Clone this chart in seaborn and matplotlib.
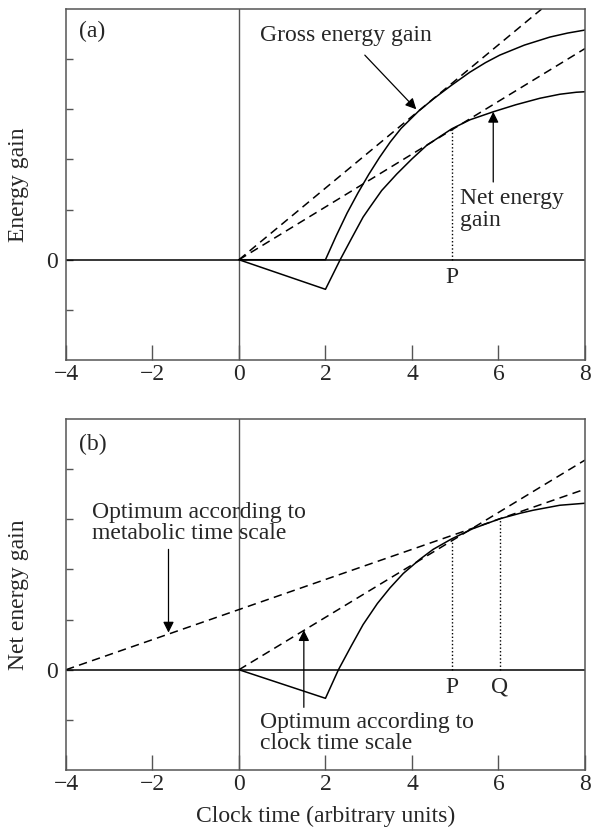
import numpy as np
import pandas as pd
import matplotlib
matplotlib.use("Agg")
import matplotlib.pyplot as plt
import seaborn as sns

############################### DATA ###############################
x_ticks = [-4, -2, 0, 2, 4, 6, 8]
y_ticks = [-1, 0, 1, 2, 3, 4]

# panel (a)
gross_x = [0, 2.0, 2.25, 2.5, 2.75, 3.0, 3.25, 3.5, 3.75, 4.15, 4.5, 4.9, 5.34, 5.7, 6.03, 6.6, 7.19, 7.6, 8.0]
gross_y = [0, 0, 0.48, 0.93, 1.33, 1.70, 2.04, 2.35, 2.62, 2.96, 3.21, 3.47, 3.74, 3.93, 4.08, 4.28, 4.44, 4.52, 4.58]
net_a_x = [0, 2.0, 2.34, 2.6, 2.87, 3.03, 3.3, 3.65, 4.0, 4.34, 4.92, 5.34, 5.88, 6.4, 6.96, 7.42, 7.8, 8.0]
net_a_y = [0, -0.59, 0, 0.42, 0.85, 1.05, 1.38, 1.71, 2.01, 2.28, 2.61, 2.79, 2.95, 3.09, 3.22, 3.30, 3.34, 3.35]
gross_tan_x = [0, 7.0]
gross_tan_y = [0, 5.0]
net_tan_a_x = [0, 8.0]
net_tan_a_y = [0, 4.21]
p_a = (4.92, 2.61)

# panel (b)
net_b_x = [0, 2.0, 2.30, 2.6, 2.87, 3.2, 3.49, 3.8, 4.18, 4.49, 4.92, 5.4, 6.03, 6.5, 6.8, 7.42, 8.0]
net_b_y = [0, -0.57, 0, 0.48, 0.90, 1.32, 1.63, 1.92, 2.20, 2.40, 2.61, 2.81, 3.01, 3.12, 3.18, 3.28, 3.32]
clock_x = [0, 8.0]
clock_y = [0, 4.18]
metab_x = [-4, 8.0]
metab_y = [0, 3.60]
p_b = (4.92, 2.61)
q_b = (6.03, 3.01)

############################### STYLE ###############################
sns.set_theme(style="ticks")
plt.rcParams['font.family'] = ['Liberation Serif', 'DejaVu Serif']
plt.rcParams['axes.unicode_minus'] = True
FS = 17
SPINE = '#555555'
DASH = (0, (5.5, 3.5))
DOT = (0, (1, 1.6))

fig = plt.figure(figsize=(5.91, 8.33), dpi=100)
ax_a = fig.add_axes([0.1117, 0.5678, 0.878, 0.4214])
ax_b = fig.add_axes([0.1117, 0.0756, 0.878, 0.4214])


def frame(ax, ylabel):
    ax.set_xlim(-4, 8)
    ax.set_ylim(-2, 5)
    ax.set_xticks(x_ticks)
    ax.set_xticklabels([str(t).replace('-', '\u2212') for t in x_ticks], fontsize=FS)
    ax.set_yticks(y_ticks)
    ax.set_yticklabels(['0' if t == 0 else '' for t in y_ticks], fontsize=FS)
    ax.tick_params(axis='x', direction='in', length=11, width=1, color=SPINE, pad=3)
    ax.tick_params(axis='y', direction='in', length=5, width=1, color=SPINE, pad=6)
    for s in ax.spines.values():
        s.set_color(SPINE)
        s.set_linewidth(1.1)
    ax.axhline(0, color='black', lw=1.1, zorder=1)
    ax.axvline(0, color=SPINE, lw=1.0, zorder=1)
    ax.set_ylabel(ylabel, fontsize=FS, va='center')
    ax.yaxis.set_label_coords(-0.092, 0.5)


def curve(ax, xs, ys, ls='-'):
    sns.lineplot(x=xs, y=ys, ax=ax, color='black', lw=1.1, linestyle=ls,
                 sort=False, estimator=None, legend=False)


def arrow(ax, xy_from, xy_to):
    ax.annotate('', xy=xy_to, xytext=xy_from,
                arrowprops=dict(arrowstyle='-|>', color='black', lw=0.9,
                                mutation_scale=16, shrinkA=0, shrinkB=0))

################################# PANEL (a) #################################
frame(ax_a, 'Energy gain')
curve(ax_a, gross_x, gross_y)
curve(ax_a, net_a_x, net_a_y)
curve(ax_a, gross_tan_x, gross_tan_y, DASH)
curve(ax_a, net_tan_a_x, net_tan_a_y, DASH)
ax_a.plot([p_a[0], p_a[0]], [0, p_a[1]], color='black', lw=1.0, linestyle=DOT)
ax_a.text(p_a[0], -0.14, 'P', ha='center', va='top', fontsize=FS)
ax_a.text(-3.7, 4.55, '(a)', ha='left', va='center', fontsize=FS)
ax_a.text(0.49, 4.48, 'Gross energy gain', ha='left', va='center', fontsize=FS)
arrow(ax_a, (2.91, 4.08), (4.1, 3.0))
ax_a.text(5.11, 1.0, 'Net energy\ngain', ha='left', va='center', fontsize=FS, linespacing=1.02)
arrow(ax_a, (5.88, 1.55), (5.88, 2.95))
ax_a.set_xlabel('')

################################# PANEL (b) #################################
frame(ax_b, 'Net energy gain')
curve(ax_b, net_b_x, net_b_y)
curve(ax_b, clock_x, clock_y, DASH)
curve(ax_b, metab_x, metab_y, DASH)
ax_b.plot([p_b[0], p_b[0]], [0, p_b[1]], color='black', lw=1.0, linestyle=DOT)
ax_b.plot([q_b[0], q_b[0]], [0, q_b[1]], color='black', lw=1.0, linestyle=DOT)
ax_b.text(p_b[0], -0.14, 'P', ha='center', va='top', fontsize=FS)
ax_b.text(q_b[0], -0.14, 'Q', ha='center', va='top', fontsize=FS)
ax_b.text(-3.7, 4.5, '(b)', ha='left', va='center', fontsize=FS)
ax_b.text(-3.4, 2.92, 'Optimum according to\nmetabolic time scale', ha='left', va='center',
          fontsize=FS, linespacing=1.02)
arrow(ax_b, (-1.63, 2.40), (-1.63, 0.74))
ax_b.text(0.49, -1.26, 'Optimum according to\nclock time scale', ha='left', va='center',
          fontsize=FS, linespacing=1.02)
arrow(ax_b, (1.5, -0.75), (1.5, 0.79))
ax_b.set_xlabel('Clock time (arbitrary units)', fontsize=FS, labelpad=8)

fig.savefig('out.png', dpi=100)
